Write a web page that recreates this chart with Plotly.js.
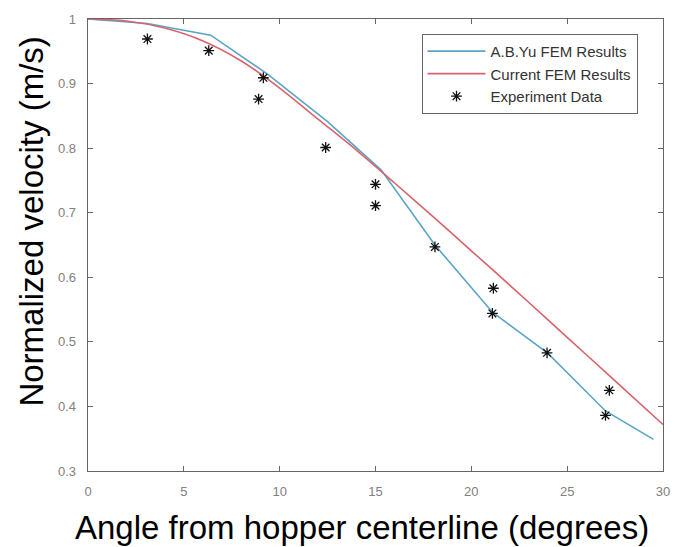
<!DOCTYPE html>
<html>
<head>
<meta charset="utf-8">
<script src="https://cdn.plot.ly/plotly-3.0.1.min.js"></script>
<style>html,body{margin:0;padding:0;background:#fff;}#chart{width:675px;height:547px;}</style>
</head>
<body>
<div id="chart"></div>
<script>
// A.B. Yu FEM results
const yuAngle = [0, 3.1, 6.4, 9.4, 12.5, 15.3, 18.1, 21.1, 24.0, 27.0, 29.5];
const yuVel   = [1.0, 0.993, 0.975, 0.914, 0.841, 0.766, 0.650, 0.546, 0.482, 0.393, 0.349];
// Current FEM results
const curAngle = [0, 2, 4, 6, 8, 10, 12, 14, 16, 18, 20, 22, 24, 26, 28, 30];
const curVel   = [1.0, 0.997, 0.986, 0.966, 0.935, 0.893, 0.845, 0.797, 0.746, 0.694, 0.641, 0.588, 0.534, 0.480, 0.426, 0.372];
// Experiment data
const expAngle = [3.1, 6.3, 8.9, 9.15, 12.4, 15.0, 15.0, 18.1, 21.15, 21.1, 23.95, 27.2, 27.0];
const expVel   = [0.969, 0.951, 0.876, 0.909, 0.801, 0.744, 0.711, 0.647, 0.583, 0.544, 0.483, 0.425, 0.386];

const names = ["A.B.Yu FEM Results", "Current FEM Results", "Experiment Data"];
const xTitle = "Angle from hopper centerline (degrees)";
const yTitle = "Normalized velocity (m/s)";

const FONT = "Arial, 'Liberation Sans', sans-serif";

const traces = [
  {x: yuAngle, y: yuVel, name: names[0], mode: "lines", type: "scatter",
   line: {color: "#5aa5c6", width: 1.6}},
  {x: curAngle, y: curVel, name: names[1], mode: "lines", type: "scatter",
   line: {color: "#d9636c", width: 1.6, shape: "spline", smoothing: 0.8}},
  {x: expAngle, y: expVel, name: names[2], mode: "markers", type: "scatter",
   marker: {symbol: "asterisk-open", size: 9, color: "#111", line: {color: "#111", width: 1.3}}}
];

const axisCommon = {
  showgrid: false, zeroline: false, showline: true, mirror: "ticks",
  linecolor: "#666", linewidth: 1.4,
  ticks: "inside", ticklen: 5, tickwidth: 1, tickcolor: "#666",
  tickfont: {family: FONT, size: 13, color: "#808080"},
  ticklabelstandoff: 8
};

const layout = {
  width: 675, height: 547,
  margin: {l: 88, r: 12, t: 18.5, b: 75.5},
  paper_bgcolor: "#fff", plot_bgcolor: "#fff",
  showlegend: true,
  xaxis: Object.assign({}, axisCommon, {range: [0, 30], tick0: 0, dtick: 5}),
  yaxis: Object.assign({}, axisCommon, {range: [0.3, 1], tick0: 0.3, dtick: 0.1}),
  legend: {
    x: 0.580, y: 0.967, xanchor: "left", yanchor: "top",
    bgcolor: "#fff", bordercolor: "#666", borderwidth: 1,
    font: {family: FONT, size: 15, color: "#333"},
    itemwidth: 58, tracegroupgap: 0
  },
  annotations: [
    {text: xTitle, xref: "paper", yref: "paper", x: 0.4765, y: -0.125,
     xanchor: "center", yanchor: "middle", showarrow: false,
     font: {family: FONT, size: 33, color: "#000"}},
    {text: yTitle, xref: "paper", yref: "paper", x: -0.099, y: 0.552,
     xanchor: "center", yanchor: "middle", showarrow: false, textangle: -90,
     font: {family: FONT, size: 33, color: "#000"}}
  ]
};

Plotly.newPlot("chart", traces, layout, {displayModeBar: false, staticPlot: true});
</script>
</body>
</html>
